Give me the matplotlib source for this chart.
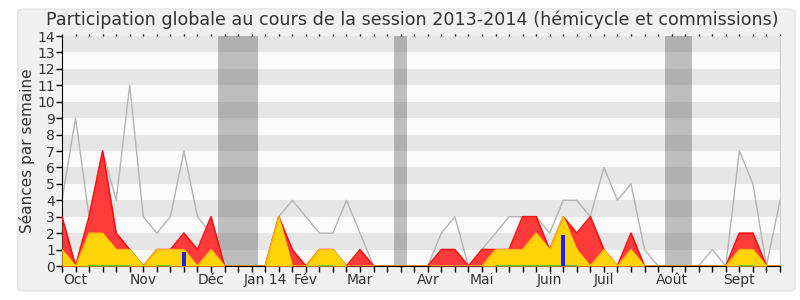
import matplotlib
matplotlib.use("Agg")
import matplotlib.pyplot as plt
import numpy as np
from matplotlib.patches import FancyBboxPatch

# weekly values, week 0 .. week 53
total = [4, 9, 3, 7, 4, 11, 3, 2, 3, 7, 3, 2, 0, 0, 0, 0, 3, 4, 3, 2,
         2, 4, 2, 0, 0, 0, 0, 0, 2, 3, 0, 1, 2, 3, 3, 3, 2, 4, 4, 3,
         6, 4, 5, 1, 0, 0, 0, 0, 1, 0, 7, 5, 0, 4]
presence = [3, 0, 3, 7, 2, 1, 0, 1, 1, 2, 1, 3, 0, 0, 0, 0, 3, 1, 0, 1,
            1, 0, 1, 0, 0, 0, 0, 0, 1, 1, 0, 1, 1, 1, 3, 3, 1, 3, 2, 3,
            1, 0, 2, 0, 0, 0, 0, 0, 0, 0, 2, 2, 0, 0]
interventions = [1, 0, 2, 2, 1, 1, 0, 1, 1, 1, 0, 1, 0, 0, 0, 0, 3, 0, 0, 1,
                 1, 0, 0, 0, 0, 0, 0, 0, 0, 0, 0, 0, 1, 1, 1, 2, 1, 3, 1, 0,
                 1, 0, 1, 0, 0, 0, 0, 0, 0, 0, 1, 1, 0, 0]
# weeks where the green (commission) line shows at the base
green_weeks = [2, 3, 4, 5, 7, 8, 16, 19, 20, 32, 33, 34, 35, 36, 37, 38, 50, 51]
question_weeks = [9, 37]
question_values = [0.87, 1.9]
# holiday spans (in weeks)
holidays = [(11.5, 14.5), (24.5, 25.5), (44.5, 46.5)]
month_pos = [1, 6, 11, 15, 18, 22, 27, 31, 36, 40, 45, 50]
month_labels = ["Oct", "Nov", "Déc", "Jan 14", "Fév", "Mar", "Avr", "Mai",
                "Juin", "Juil", "Août", "Sept"]

weeks = np.arange(len(total))
green = np.array([0.0 if w in green_weeks else np.nan for w in weeks])

fig = plt.figure(figsize=(8, 3), dpi=100, facecolor="white")
fig.patches.append(FancyBboxPatch((0.022, 0.03), 0.972, 0.94,
                                  boxstyle="round,pad=0,rounding_size=0.01",
                                  transform=fig.transFigure, facecolor="#f0f0f0",
                                  edgecolor="#e4e4e4", lw=1, zorder=-5))
ax = fig.add_axes([0.0775, 0.1133, 0.8975, 0.7667])
ax.set_facecolor("#fafafa")

for k in range(14):
    ax.axhspan(k, k + 1, color="#e6e6e6" if k % 2 else "#fafafa", lw=0, zorder=0)
for a, b in holidays:
    ax.axvspan(a, b, color="black", alpha=0.24, lw=0, zorder=1)

ax.plot(weeks, total, color="#b4b4b4", lw=1, zorder=2)
ax.fill_between(weeks, presence, color="#ff3a3a", lw=0, zorder=3)
ax.plot(weeks, presence, color="#ff1010", lw=1.2, zorder=3)
ax.fill_between(weeks, interventions, color="#ffd30a", lw=0, zorder=4)
ax.plot(weeks, interventions, color="#ffe000", lw=1, zorder=4, alpha=0.8)
ax.plot(weeks, green, color="#22cc22", lw=1.2, zorder=5)
ax.bar(question_weeks, question_values, width=0.28, color="#2222dd", zorder=6)

ax.set_xlim(0, 53)
ax.set_ylim(0, 14)
ax.set_yticks(range(15))
ax.set_xticks(weeks, minor=True)
ax.set_xticks(month_pos)
ax.set_xticklabels(month_labels)
ax.tick_params(axis="both", labelsize=10, colors="#333333", length=4, width=1)
ax.tick_params(axis="x", which="both", length=4, width=1, color="black", pad=1)
ax.tick_params(axis="y", color="black", pad=1)

# small dotted ticks along the top edge
top = ax.secondary_xaxis("top")
top.set_xticks(weeks)
top.tick_params(length=1.5, width=1, color="black", labeltop=False)
top.spines["top"].set_visible(False)

ax.spines["top"].set_visible(False)
ax.spines["right"].set_color("#cccccc")
ax.spines["left"].set_color("black")
ax.spines["bottom"].set_color("black")

ax.set_ylabel("Séances par semaine", fontsize=11, color="#333333", labelpad=2)
fig.text(0.515, 0.935, "Participation globale au cours de la session 2013-2014 (hémicycle et commissions)",
         ha="center", va="center", fontsize=12.6, color="#333333")

fig.savefig("out.png", dpi=100, facecolor="white")
